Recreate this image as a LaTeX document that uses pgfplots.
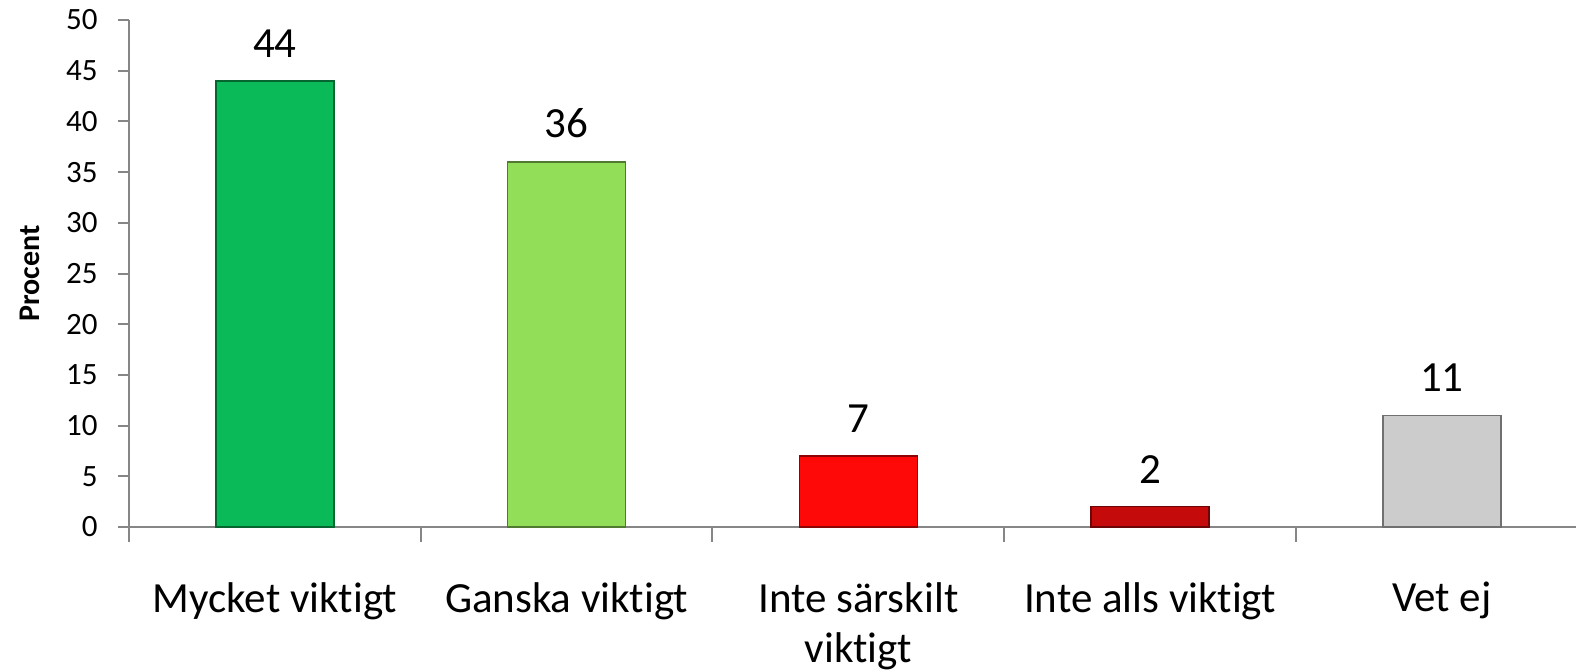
\documentclass[border=0pt]{standalone}
\usepackage{pgfplots}
\pgfplotsset{compat=1.18}
\usepackage{fontspec}
\setmainfont{Carlito}[Ligatures=NoCommon]
\definecolor{axisgray}{RGB}{134,134,134}
\definecolor{cA}{RGB}{10,186,88}
\definecolor{cB}{RGB}{146,222,88}
\definecolor{cC}{RGB}{255,8,8}
\definecolor{cD}{RGB}{196,10,10}
\definecolor{cE}{RGB}{204,204,204}
\begin{document}
\begin{tikzpicture}
\begin{axis}[
  scale only axis, width=723.5pt, height=253.5pt,
  xmin=-0.5, xmax=4.46, ymin=0, ymax=50,
  axis lines*=left,
  axis line style={draw=axisgray, line width=1pt},
  clip=false,
  ybar,
  ytick={0,5,...,50},
  xtick={0,1,2,3,4},
  xticklabels={Mycket viktigt, Ganska viktigt, Inte särskilt\\viktigt, Inte alls viktigt, Vet ej},
  minor xtick={-0.5,0.5,1.5,2.5,3.5},
  tick align=outside,
  major tick length=5.5pt,
  minor tick length=7.5pt,
  tick style={draw=axisgray, line width=1pt},
  major x tick style={draw=none},
  /pgf/number format/assume math mode=true,
  yticklabel style={font=\fontsize{15.5}{18}\selectfont, anchor=east, inner sep=0pt, xshift=-10pt},
  xticklabel style={font=\fontsize{21.5}{25}\selectfont, align=center, anchor=north, inner sep=0pt, yshift=-22pt},
  ylabel={\textbf{Procent}},
  ylabel style={at={(axis description cs:-0.0684,0.5)}, rotate=0, anchor=center, font=\fontsize{15}{18}\selectfont},
  nodes near coords,
  every node near coord/.append style={font=\fontsize{21.5}{25.5}\selectfont, anchor=south, inner sep=0pt, yshift=11.5pt, black},
]
\addplot[bar width=59pt, bar shift=0pt, fill=cA, draw=cA!55!black, line width=0.7pt] coordinates {(0,44)};
\addplot[bar width=59pt, bar shift=0pt, fill=cB, draw=cB!55!black, line width=0.7pt] coordinates {(1,36)};
\addplot[bar width=59pt, bar shift=0pt, fill=cC, draw=cC!55!black, line width=0.7pt] coordinates {(2,7)};
\addplot[bar width=59pt, bar shift=0pt, fill=cD, draw=cD!55!black, line width=0.7pt] coordinates {(3,2)};
\addplot[bar width=59pt, bar shift=0pt, fill=cE, draw=cE!55!black, line width=0.7pt] coordinates {(4,11)};
\end{axis}
\pgfresetboundingbox
\path[use as bounding box] (-64.5pt,-72pt) rectangle (723.5pt,263.5pt);
\end{tikzpicture}
\end{document}
